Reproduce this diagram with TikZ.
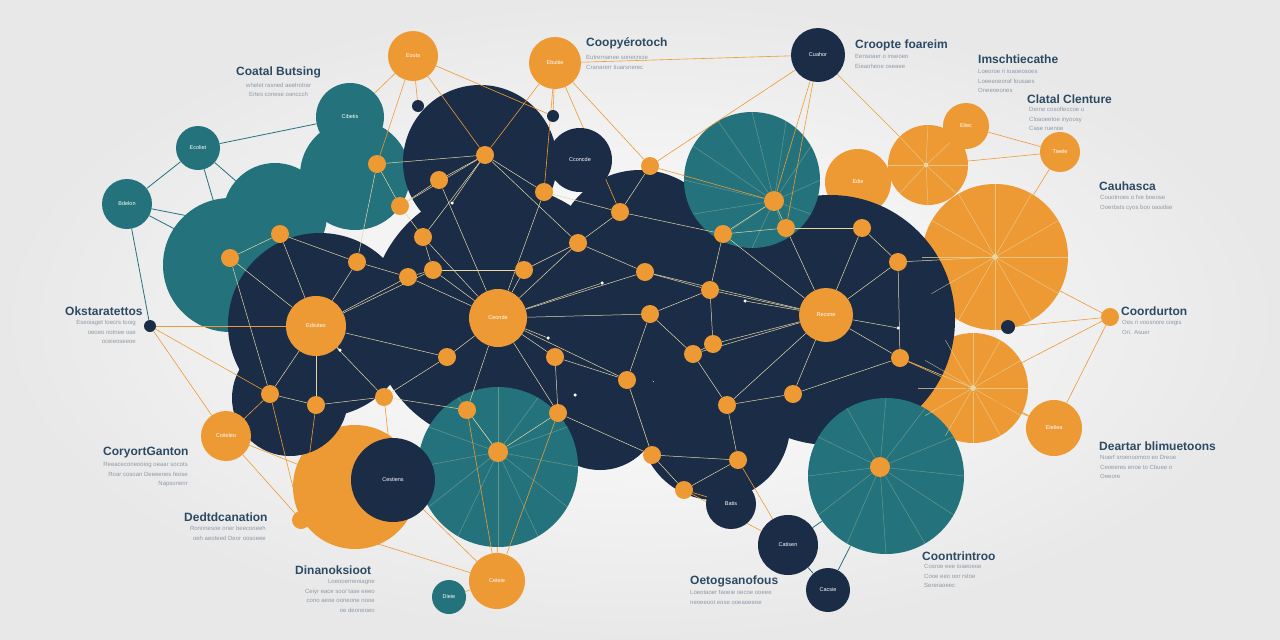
\documentclass[tikz,border=0pt]{standalone}
\usepackage{fontspec}
\setmainfont{Liberation Sans}
\pgfdeclarelayer{bgl}\pgfdeclarelayer{big}\pgfdeclarelayer{edg}
\pgfsetlayers{bgl,big,edg,main}
\definecolor{navy}{HTML}{1B2C47}
\definecolor{tealc}{HTML}{24737C}
\definecolor{oran}{HTML}{EE9A34}
\definecolor{ttl}{HTML}{2C4A63}
\definecolor{subc}{HTML}{8D9AA6}
\definecolor{pale}{HTML}{E6D7A5}
\begin{document}
\begin{tikzpicture}[x=1pt,y=-1pt,
 bc/.style={circle,inner sep=0pt,draw=none,minimum size=#1,text=white,font=\fontsize{5.5}{6}\selectfont},
 dk/.style={bc=#1,fill=navy},
 tl/.style={bc=#1,fill=tealc},
 og/.style={bc=#1,fill=oran},
 sn/.style={circle,inner sep=0pt,minimum size=18pt,fill=oran},
 tn/.style={circle,inner sep=0pt,minimum size=20pt,fill=oran},
 dd/.style={circle,inner sep=0pt,minimum size=12pt,fill=navy},
 wd/.style={circle,inner sep=0pt,minimum size=3.5pt,fill=white},
 oe/.style={draw=oran,line width=0.6pt},
 pe/.style={draw=pale,line width=0.5pt},
 te/.style={draw=tealc,line width=0.8pt},
 ttlb/.style={font=\fontsize{12}{14}\selectfont\bfseries,text=ttl,inner sep=0pt},
 subt/.style={font=\fontsize{6}{9.5}\selectfont,text=subc,inner sep=0pt}]
\useasboundingbox (0,0) rectangle (1280,640);
\begin{pgfonlayer}{bgl}
\shade[inner color=white,outer color=black!9] (0,0) rectangle (1280,640);
\end{pgfonlayer}

\begin{pgfonlayer}{big}
% orange back
\node[og=146pt] (O7) at (995,257) {};
\node[og=110pt] (O8) at (973,388) {};
\node[og=80pt] (O5) at (928,165) {};
\node[og=66pt,font=\fontsize{5.5}{6}\selectfont] (O6) at (858,182) {Edie};
\node[og=124pt] (O11) at (355,487) {};
% teal back
\node[tl=134pt] (TA) at (230,265) {};
\node[tl=104pt] (TB) at (275,215) {};
\node[tl=110pt] (TC) at (355,175) {};
% dark
\node[dk=154pt] (Dtop) at (480,162) {};
\node[dk=260pt] (Dcen) at (500,315) {};
\node[dk=170pt] (Dcen2) at (640,255) {};
\node[dk=160pt] (Dfil) at (690,310) {};
\node[dk=250pt] (Drt) at (830,320) {};
\node[dk=184pt] (Dml) at (320,325) {};
\node[dk=116pt] (Dll) at (290,398) {};
\node[dk=150pt] (Dlm) at (715,425) {};
\node[dk=120pt] (Dlc) at (600,410) {};
% teal front
\node[tl=136pt] (T7) at (752,180) {};
\node[tl=160pt] (T8) at (498,467) {};
\node[tl=156pt] (T9) at (886,476) {};
\end{pgfonlayer}

% small circles
\node[tl=68pt] (T1) at (350,117) {Cibetis};
\node[tl=44pt] (T2) at (198,148) {Ecoliet};
\node[tl=50pt] (T3) at (127,204) {Bdelon};
\node[og=50pt] (O1) at (413,56) {Eouts};
\node[og=52pt] (O2) at (555,63) {Ebutiie};
\node[og=46pt] (O3) at (966,126) {Eliec};
\node[og=40pt] (O4) at (1060,152) {Tieele};
\node[og=56pt] (O9) at (1054,428) {Eteliea};
\node[og=50pt] (O10) at (226,436) {Coiteleo};
\node[og=56pt] (O12) at (497,581) {Ceteie};
\node[tl=34pt] (Die) at (449,597) {Dieie};
\node[dk=54pt] (Cua) at (818,55) {Cuahor};
\node[dk=64pt] (Ccc) at (580,160) {Cconcde};
\node[dk=84pt] (Ces) at (393,480) {Cestiens};
\node[dk=50pt] (Bat) at (731,504) {Batis};
\node[dk=60pt] (Cat) at (788,545) {Catisen};
\node[dk=44pt] (Cac) at (828,590) {Cacsie};
\node[og=58pt] (C1) at (498,318) {Ceonde};
\node[og=60pt] (C2) at (316,326) {Edisiteo};
\node[og=54pt] (C3) at (826,315) {Recone};

% small nodes
\foreach \n/\x/\y in {n1/485/155,n2/377/164,n3/439/180,n4/544/192,n5/400/206,n6/620/212,
 n7/280/234,n8/230/258,n9/423/237,n10/578/243,n11/723/234,n13/786/228,n14/645/272,
 n15/433/270,n16/408/277,n17/357/262,n18/524/270,n19/710/290,n20/898/262,n21/650/314,
 n22/447/357,n23/555/357,n24/693/354,n25/713/344,n26/900/358,n27/627/380,n28/384/397,
 n29/270/394,n30/727/405,n31/793/394,n32/467/410,n33/558/413,n34/316/405,n35/652/455,
 n36/738/460,n37/684/490,n40/1110/317,n41/301/520,n42/650/166,n43/862/228}
 \node[sn] (\n) at (\x,\y) {};
\node[tn] (n12) at (774,201) {};
\node[tn] (n38) at (880,467) {};
\node[tn] (n39) at (498,452) {};
\node[circle,fill=pale,inner sep=0pt,minimum size=6pt] (n44) at (995,257) {};
\node[circle,fill=pale,inner sep=0pt,minimum size=6pt] (n45) at (973,388) {};
\node[circle,fill=pale,inner sep=0pt,minimum size=5pt] (n46) at (926,165) {};
\node[dd] (d1) at (418,106) {};
\node[dd] (d2) at (553,116) {};
\node[dd] (d3) at (150,326) {};
\node[dd,minimum size=14pt] (d4) at (1008,327) {};
\foreach \n/\x/\y in {w1/340/350,w2/452/203,w3/745/301,w4/898/328,w5/602/283,w6/548/338,w7/575/395}
 \node[wd] (\n) at (\x,\y) {};

\begin{pgfonlayer}{edg}
% spokes
\foreach \a in {0,30,...,330} {
 \draw[pe,opacity=.7] (n44) -- (O7.\a);
 \draw[pe,opacity=.7] (n45) -- (O8.\a);
 \draw[pe,opacity=.35] (n38) -- (T9.\a);
 \draw[pe,opacity=.35] (n39) -- (T8.\a);
 \draw[pe,opacity=.35] (n12) -- (T7.\a);
}
\foreach \a in {0,45,...,315} \draw[pe,opacity=.7] (n46) -- (O5.\a);
% hubs
\foreach \n in {n3,n4,n9,n10,n15,n16,n18,n22,n23,n32,n33,n27,n21,n14,w5,w6}
 \draw[pe] (C1) -- (\n);
\foreach \n in {n7,n8,n17,n16,n29,n34,n28,n22,n15,w1}
 \draw[pe] (C2) -- (\n);
\foreach \n in {n11,n13,n43,n20,n26,n31,n30,n25,n19,n14,n24,w3,w4}
 \draw[pe] (C3) -- (\n);
\foreach \n in {n2,n3,n4,n5,n9,n10,w2}
 \draw[pe] (n1) -- (\n);
\foreach \a/\b in {n2/n5,n5/n9,n9/n15,n15/n16,n16/n17,n17/n7,n7/n8,n4/n6,n6/n10,n10/n14,
 n6/n11,n11/n13,n12/n13,n12/n11,n14/n19,n19/n21,n21/n24,n24/n25,n25/n19,n21/n27,n27/n23,
 n23/n33,n33/n35,n35/n36,n36/n30,n30/n31,n31/n26,n26/n20,n20/n43,n43/n13,n27/n35,n30/n24,
 n22/n28,n28/n34,n34/n29,n28/n32,n32/n39,n33/n39,n36/n37,n37/n35,n3/n5,n18/n10,n18/n15,
 n2/n17,n6/n42,n11/n19,n29/n8,n26/n45,n20/n44}
 \draw[pe] (\a) -- (\b);
% orange outer connectors
\foreach \a/\b in {O1/T1,O1/n2,O1/n1,O1/d1,O2/n1,O2/n4,O2/n42,O2/Cua,O2/n6,O2/d2,
 Cua/n12,Cua/n13,Cua/O5,Cua/n42,O3/O4,O3/O5,O4/O7,O4/O5,O7/n40,O8/n40,n40/d4,n40/O9,
 O9/O8,O9/n26,d3/O10,d3/n29,d3/C2,O10/n29,O10/n41,O10/O11,n41/n29,n41/O12,n41/n34,
 O12/n32,O12/n33,O12/Ces,O12/Die,O12/T8,n42/n12,O1/d2,Ces/n28,Cat/n36,Cat/n37,Bat/n37,
 O7/O5,O8/n26}
 \draw[oe] (\a) -- (\b);
% teal connectors
\foreach \a/\b in {T2/T1,T2/T3,T3/n8,T3/d3,T2/n8,T3/n7,T2/TB,T9/Cat,T9/Cac,Cac/Cat,T1/n2}
 \draw[te] (\a) -- (\b);
\end{pgfonlayer}

% labels
\node[ttlb,anchor=west] (L1) at (236,72) {Coatal Butsing};
\node[subt,anchor=north,align=center] (S1) at (L1.south) [yshift=-5pt] {whelet rasned aeelrotrar\\ Ertes conese oanccch};
\node[ttlb,anchor=west] (L2) at (586,43) {Coopyérotoch};
\node[subt,anchor=north west,align=left] (S2) at (586,55) {Eutrernanee sonecncie\\ Cranarerr tiuarsnerec};
\node[ttlb,anchor=west] (L3) at (855,45) {Croopte foareim};
\node[subt,anchor=north west,align=left] (S3) at (855,54) {Eensoaer o inseoeo\\ Eieaoheoe oseaee};
\node[ttlb,anchor=west] (L4) at (978,59) {Imschtiecathe};
\node[subt,anchor=north west,align=left] (S4) at (978,69) {Loeoroe ri ioaoeosoes\\ Loeeeoeoraf fousaes\\ Oneeoeones};
\node[ttlb,anchor=west] (L5) at (1027,99) {Clatal Clenture};
\node[subt,anchor=north west,align=left] (S5) at (1029,107) {Derne cosofteccoe u\\ Cloaoeetoe inyoosy\\ Case ruenoe};
\node[ttlb,anchor=west] (L6) at (1099,186) {Cauhasca};
\node[subt,anchor=north west,align=left] (S6) at (1100,195) {Couotnoes o fve boeose\\ Ooerbsts cyos boo oasidse};
\node[ttlb,anchor=west] (L7) at (65,311) {Okstaratettos};
\node[subt,anchor=north east,align=right] (S7) at (136,320) {Eseoiaget toecrs tooig\\ oeoeo notnee ose\\ oceieoseeoe};
\node[ttlb,anchor=west] (L8) at (1121,311) {Coordurton};
\node[subt,anchor=north west,align=left] (S8) at (1122,320) {Oes ri voosnore ciegis\\ Ori. Asuer};
\node[ttlb,anchor=west] (L9) at (103,453) {CoryortGanton};
\node[subt,anchor=north east,align=right] (S9) at (188,462) {Reeaceconeooiog oeaar socots\\ Roar cosoan Deeeeoes feose\\ Napsonenr};
\node[ttlb,anchor=west] (L10) at (1099,446) {Deartar blimuetoons};
\node[subt,anchor=north west,align=left] (S10) at (1100,455) {Noerf sroenoomoo eo Dreoe\\ Ceoeeres enoe to Cbuee o\\ Oeeore};
\node[ttlb,anchor=west] (L11) at (184,517) {Dedtdcanation};
\node[subt,anchor=north east,align=right] (S11) at (266,526) {Ronnnesoe oner beecooeeh\\ oeh aeoteed Deor oosoeee};
\node[ttlb,anchor=west] (L12) at (295,570) {Dinanoksioot};
\node[subt,anchor=north east,align=right] (S12) at (375,579) {Loeooerneoiagne\\ Ceiyr eace soo/ tase eeeo\\ cono aeoe ooneone nooe\\ oe deoneoeo};
\node[ttlb,anchor=west] (L13) at (690,581) {Oetogsanofous};
\node[subt,anchor=north west,align=left] (S13) at (690,590) {Loeotaoer faoeie oecoe ooeee\\ neoeeoot eose ooeaoeeoe};
\node[ttlb,anchor=west] (L14) at (922,556) {Coontrintroo};
\node[subt,anchor=north west,align=left] (S14) at (924,564) {Cosroe eee ioaeoeoe\\ Cooe eeo oor rstoe\\ Sereraoeec};
\end{tikzpicture}
\end{document}
